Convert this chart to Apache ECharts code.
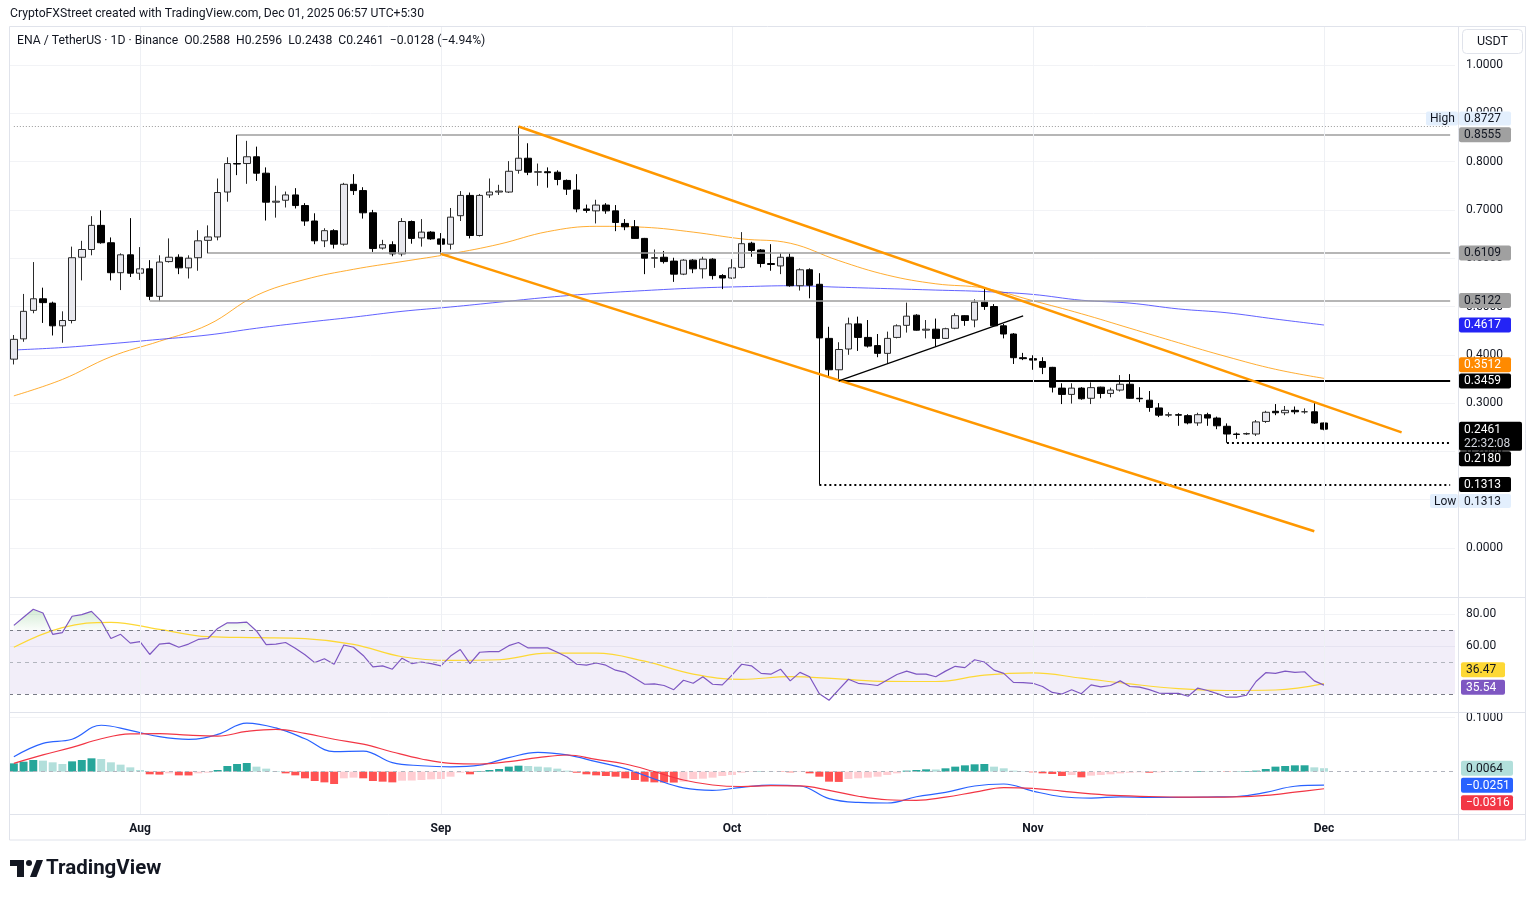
<!DOCTYPE html>
<html>
<head>
<meta charset="utf-8">
<title>ENA / TetherUS 1D</title>
<script src="https://cdn.jsdelivr.net/npm/echarts@6/dist/echarts.min.js"></script>
<style>
html, body { margin: 0; padding: 0; background: #fff; }
#main { width: 1536px; height: 897px; }
</style>
</head>
<body>
<div id="main"></div>
<script>
// daily candles, 2025-07-19 .. 2025-12-01
var opens = [0.391, 0.433, 0.492, 0.516, 0.507, 0.460, 0.471, 0.602, 0.618, 0.668,
  0.632, 0.570, 0.607, 0.569, 0.578, 0.521, 0.593, 0.602, 0.580, 0.601,
  0.637, 0.644, 0.737, 0.796, 0.796, 0.810, 0.776, 0.716, 0.720, 0.731,
  0.709, 0.677, 0.636, 0.657, 0.629, 0.753, 0.740, 0.694, 0.621, 0.628,
  0.609, 0.676, 0.642, 0.654, 0.640, 0.629, 0.688, 0.730, 0.647, 0.731,
  0.737, 0.737, 0.782, 0.807, 0.778, 0.779, 0.778, 0.761, 0.741, 0.702,
  0.698, 0.710, 0.698, 0.672, 0.665, 0.641, 0.600, 0.602, 0.594, 0.567,
  0.596, 0.578, 0.598, 0.564, 0.559, 0.581, 0.631, 0.617, 0.589, 0.584,
  0.602, 0.543, 0.576, 0.546, 0.434, 0.369, 0.412, 0.464, 0.436, 0.419,
  0.403, 0.436, 0.461, 0.482, 0.451, 0.453, 0.434, 0.455, 0.481, 0.472,
  0.509, 0.500, 0.460, 0.443, 0.394, 0.392, 0.386, 0.374, 0.331, 0.318,
  0.331, 0.310, 0.333, 0.320, 0.327, 0.339, 0.310, 0.306, 0.290, 0.275,
  0.276, 0.274, 0.259, 0.276, 0.269, 0.252, 0.236, 0.236, 0.236, 0.262,
  0.283, 0.280, 0.285, 0.282, 0.282, 0.2588];
var highs = [0.441, 0.526, 0.592, 0.539, 0.510, 0.490, 0.624, 0.636, 0.687, 0.699,
  0.643, 0.610, 0.683, 0.623, 0.596, 0.606, 0.641, 0.608, 0.606, 0.658,
  0.668, 0.765, 0.809, 0.8555, 0.843, 0.831, 0.788, 0.750, 0.738, 0.745,
  0.714, 0.693, 0.662, 0.660, 0.756, 0.774, 0.747, 0.700, 0.638, 0.635,
  0.683, 0.678, 0.681, 0.656, 0.652, 0.704, 0.739, 0.736, 0.733, 0.765,
  0.752, 0.801, 0.8727, 0.838, 0.796, 0.788, 0.782, 0.763, 0.774, 0.711,
  0.721, 0.714, 0.710, 0.681, 0.679, 0.642, 0.618, 0.615, 0.601, 0.598,
  0.598, 0.603, 0.600, 0.567, 0.598, 0.654, 0.634, 0.619, 0.629, 0.610,
  0.610, 0.579, 0.579, 0.569, 0.458, 0.426, 0.477, 0.479, 0.472, 0.443,
  0.448, 0.463, 0.508, 0.484, 0.472, 0.475, 0.456, 0.486, 0.482, 0.515,
  0.537, 0.505, 0.464, 0.445, 0.404, 0.399, 0.395, 0.375, 0.341, 0.341,
  0.333, 0.343, 0.334, 0.332, 0.358, 0.360, 0.333, 0.325, 0.300, 0.281,
  0.279, 0.277, 0.280, 0.280, 0.272, 0.258, 0.239, 0.239, 0.265, 0.284,
  0.298, 0.294, 0.293, 0.289, 0.301, 0.2596];
var lows = [0.380, 0.427, 0.486, 0.466, 0.440, 0.425, 0.465, 0.554, 0.606, 0.630,
  0.554, 0.534, 0.561, 0.555, 0.513, 0.511, 0.591, 0.567, 0.558, 0.574,
  0.610, 0.637, 0.717, 0.772, 0.754, 0.760, 0.678, 0.684, 0.705, 0.703,
  0.667, 0.629, 0.623, 0.620, 0.626, 0.731, 0.682, 0.613, 0.618, 0.604,
  0.604, 0.630, 0.624, 0.638, 0.608, 0.618, 0.677, 0.641, 0.645, 0.725,
  0.731, 0.735, 0.775, 0.772, 0.750, 0.746, 0.751, 0.731, 0.695, 0.694,
  0.672, 0.692, 0.656, 0.658, 0.640, 0.567, 0.580, 0.589, 0.551, 0.565,
  0.569, 0.558, 0.556, 0.536, 0.557, 0.579, 0.603, 0.581, 0.574, 0.567,
  0.541, 0.533, 0.517, 0.1313, 0.355, 0.346, 0.400, 0.408, 0.415, 0.395,
  0.381, 0.434, 0.446, 0.450, 0.434, 0.417, 0.433, 0.453, 0.460, 0.457,
  0.493, 0.458, 0.434, 0.381, 0.389, 0.369, 0.360, 0.322, 0.298, 0.299,
  0.307, 0.298, 0.310, 0.312, 0.324, 0.309, 0.302, 0.282, 0.271, 0.271,
  0.253, 0.256, 0.253, 0.253, 0.246, 0.218, 0.226, 0.234, 0.232, 0.259,
  0.275, 0.275, 0.277, 0.278, 0.257, 0.2438];
var closes = [0.432, 0.490, 0.516, 0.508, 0.460, 0.471, 0.601, 0.618, 0.668, 0.632,
  0.570, 0.607, 0.569, 0.578, 0.521, 0.592, 0.602, 0.580, 0.600, 0.636,
  0.644, 0.736, 0.796, 0.795, 0.810, 0.776, 0.716, 0.718, 0.731, 0.709,
  0.677, 0.636, 0.657, 0.629, 0.753, 0.740, 0.694, 0.620, 0.628, 0.609,
  0.676, 0.641, 0.654, 0.640, 0.629, 0.685, 0.730, 0.647, 0.730, 0.737,
  0.739, 0.780, 0.807, 0.778, 0.779, 0.777, 0.763, 0.743, 0.702, 0.699,
  0.710, 0.698, 0.674, 0.665, 0.641, 0.600, 0.601, 0.593, 0.567, 0.596,
  0.578, 0.598, 0.564, 0.559, 0.580, 0.630, 0.616, 0.589, 0.587, 0.602,
  0.543, 0.576, 0.544, 0.435, 0.369, 0.411, 0.464, 0.436, 0.418, 0.403,
  0.434, 0.460, 0.480, 0.451, 0.453, 0.434, 0.454, 0.481, 0.471, 0.509,
  0.500, 0.460, 0.443, 0.394, 0.392, 0.389, 0.374, 0.333, 0.318, 0.331,
  0.309, 0.332, 0.320, 0.327, 0.339, 0.310, 0.309, 0.291, 0.275, 0.276,
  0.275, 0.259, 0.276, 0.269, 0.253, 0.236, 0.235, 0.237, 0.261, 0.281,
  0.280, 0.285, 0.282, 0.282, 0.2588, 0.2461];

// one category per day, running on past Dec 1 so the channel has room
var dates = [];
(function () {
  var d = new Date(Date.UTC(2025, 6, 19));
  for (var k = 0; k < 149; k++) {
    dates.push(d.toISOString().slice(0, 10));
    d.setUTCDate(d.getUTCDate() + 1);
  }
})();
var monthNames = { '2025-08-01': 'Aug', '2025-09-01': 'Sep', '2025-10-01': 'Oct', '2025-11-01': 'Nov', '2025-12-01': 'Dec' };
var priceTicks = [0, 0.1, 0.2, 0.3, 0.4, 0.5, 0.6, 0.7, 0.8, 0.9, 1.0];
var rsiTicks = [60, 80];
var macdTicks = [0.1];

// moving averages, one reading every 5 bars
var maStep = 5;
var ma50 = [0.315, 0.349, 0.396, 0.428, 0.462, 0.523, 0.556, 0.577, 0.593, 0.609,
  0.629, 0.655, 0.666, 0.664, 0.654, 0.640, 0.631, 0.595, 0.565, 0.547,
  0.538, 0.512, 0.485, 0.455, 0.425, 0.396, 0.370, 0.3512];
var ma200 = [0.410, 0.415, 0.423, 0.432, 0.441, 0.455, 0.467, 0.478, 0.490, 0.499,
  0.509, 0.519, 0.527, 0.533, 0.538, 0.541, 0.543, 0.540, 0.537, 0.534,
  0.531, 0.525, 0.513, 0.507, 0.495, 0.487, 0.474, 0.4617];

// RSI(14) per bar, and its MA every 5 bars
var rsi = [72.9, 78.0, 83.0, 80.6, 67.3, 68.4, 78.6, 79.6, 81.6, 75.5,
  64.7, 67.3, 61.8, 62.7, 54.7, 61.2, 61.8, 59.2, 61.2, 64.1,
  64.7, 71.0, 74.5, 74.5, 74.9, 69.4, 60.8, 61.2, 62.2, 58.6,
  54.5, 49.6, 52.0, 48.6, 60.6, 59.2, 54.1, 46.9, 47.6, 45.5,
  52.4, 49.0, 50.0, 49.0, 47.6, 53.7, 57.8, 49.0, 56.1, 56.5,
  56.5, 60.2, 62.2, 58.8, 58.8, 58.8, 56.1, 53.1, 48.6, 48.0,
  49.4, 48.0, 44.9, 43.5, 39.8, 36.1, 36.3, 35.3, 32.7, 38.6,
  36.7, 40.8, 36.1, 35.7, 41.8, 48.6, 47.6, 42.9, 42.4, 45.5,
  38.2, 43.5, 40.8, 30.2, 26.1, 32.7, 39.2, 36.7, 36.1, 35.3,
  38.8, 42.2, 44.3, 42.4, 42.4, 40.8, 44.3, 47.3, 46.5, 51.4,
  50.0, 44.9, 42.9, 37.3, 37.1, 36.7, 34.7, 31.0, 30.0, 32.7,
  30.2, 35.7, 34.5, 35.3, 38.2, 34.7, 34.3, 32.7, 30.6, 30.4,
  30.4, 28.6, 33.7, 32.2, 30.2, 28.0, 28.0, 29.2, 37.8, 43.3,
  42.9, 44.3, 43.5, 43.9, 38.2, 35.54];
var rsiMa = [59.2, 71.5, 74.8, 70.4, 65.8, 65.2, 64.6, 61.0, 53.3, 51.0,
  51.4, 55.5, 55.5, 50.5, 42.4, 39.2, 40.8, 39.4, 37.9, 37.8,
  41.8, 43.2, 39.9, 36.3, 33.4, 32.2, 32.5, 36.47];

// MACD(12,26,9): lines every 3 bars, histogram per bar
var macdStep = 3;
var macdLine = [0.0278, 0.0525, 0.0600, 0.0860, 0.0765, 0.0648, 0.0599, 0.0690, 0.0900, 0.0810,
  0.0610, 0.0370, 0.0380, 0.0167, 0.0110, 0.0090, 0.0120, 0.0260, 0.0358, 0.0310,
  0.0185, 0.0055, -0.0135, -0.0300, -0.0345, -0.0290, -0.0250, -0.0265, -0.0500, -0.0570,
  -0.0580, -0.0465, -0.0385, -0.0265, -0.0228, -0.0360, -0.0465, -0.0490, -0.0465, -0.0475,
  -0.0475, -0.0470, -0.0460, -0.0385, -0.0270, -0.0251];
var signalLine = [0.0154, 0.0310, 0.0450, 0.0610, 0.0700, 0.0705, 0.0675, 0.0660, 0.0745, 0.0784,
  0.0710, 0.0600, 0.0510, 0.0365, 0.0235, 0.0154, 0.0142, 0.0185, 0.0259, 0.0309,
  0.0228, 0.0142, 0.0000, -0.0154, -0.0247, -0.0275, -0.0259, -0.0264, -0.0345, -0.0455,
  -0.0520, -0.0530, -0.0470, -0.0380, -0.0295, -0.0310, -0.0360, -0.0410, -0.0445, -0.0460,
  -0.0472, -0.0473, -0.0468, -0.0440, -0.0380, -0.0316];
var hist = [0.0154, 0.0185, 0.0216, 0.0204, 0.0173, 0.0142, 0.0191, 0.0216, 0.0247, 0.0235,
  0.0173, 0.0130, 0.0080, 0.0031, -0.0049, -0.0055, -0.0031, -0.0068, -0.0070, -0.0031,
  -0.0019, 0.0031, 0.0105, 0.0142, 0.0160, 0.0093, 0.0056, 0.0012, -0.0031, -0.0068,
  -0.0123, -0.0173, -0.0198, -0.0228, -0.0123, -0.0111, -0.0123, -0.0173, -0.0185, -0.0198,
  -0.0167, -0.0164, -0.0154, -0.0142, -0.0136, -0.0093, -0.0019, -0.0049, 0.0012, 0.0031,
  0.0049, 0.0093, 0.0111, 0.0105, 0.0093, 0.0080, 0.0056, 0.0019, -0.0019, -0.0049,
  -0.0068, -0.0080, -0.0093, -0.0123, -0.0154, -0.0185, -0.0198, -0.0200, -0.0202, -0.0185,
  -0.0136, -0.0130, -0.0111, -0.0080, -0.0062, -0.0019, -0.0006, 0.0006, 0.0004, -0.0006,
  -0.0012, -0.0006, -0.0031, -0.0093, -0.0185, -0.0190, -0.0136, -0.0123, -0.0111, -0.0093,
  -0.0062, -0.0031, 0.0019, 0.0031, 0.0043, 0.0040, 0.0062, 0.0093, 0.0117, 0.0136,
  0.0142, 0.0093, 0.0062, 0.0019, 0.0006, -0.0012, -0.0031, -0.0043, -0.0080, -0.0062,
  -0.0105, -0.0074, -0.0062, -0.0049, -0.0031, -0.0019, -0.0012, -0.0019, -0.0012, -0.0006,
  0.0006, 0.0004, 0.0012, 0.0006, 0.0005, -0.0006, 0.0006, 0.0012, 0.0019, 0.0049,
  0.0093, 0.0105, 0.0117, 0.0118, 0.0080, 0.0064];

// drawings: [bar index, price]
var upperChannel = [[52, 0.8727], [143, 0.2393]];
var lowerChannel = [[44, 0.609], [134, 0.0346]];
var riseLine = [[85, 0.3459], [104, 0.4805]];
var grayLevels = [[23, 0.8555], [20, 0.6109], [14, 0.5122]];
var blackLevel = [85, 0.3459];
var dottedLevels = [[125, 0.2180], [83, 0.1313]];
var highValue = 0.8727;
var lowValue = 0.1313;

var FONT = 'Roboto, "Liberation Sans", sans-serif';
var TXT = '#131722';
var lastBar = dates.length - 1;

var myChart = echarts.init(document.getElementById('main'));

function pairs(arr, step) {
  return arr.map(function (v, k) { return [dates[k * step], v]; });
}
function seg(p) {
  return p.map(function (q) { return [dates[q[0]], q[1]]; });
}
var monthLines = Object.keys(monthNames).map(function (d) { return { xAxis: d }; });

// price levels drawn as mark lines on the candles
var levelLines = [];
grayLevels.forEach(function (l) {
  levelLines.push([{ coord: [dates[l[0]], l[1]], lineStyle: { color: '#9e9e9e', width: 1.5, type: 'solid' } },
    { coord: [dates[lastBar], l[1]] }]);
});
levelLines.push([{ coord: [dates[blackLevel[0]], blackLevel[1]], lineStyle: { color: '#000', width: 2, type: 'solid' } },
  { coord: [dates[lastBar], blackLevel[1]] }]);
dottedLevels.forEach(function (l) {
  levelLines.push([{ coord: [dates[l[0]], l[1]], lineStyle: { color: '#000', width: 2, type: [2, 3] } },
    { coord: [dates[lastBar], l[1]] }]);
});
levelLines.push([{ coord: [dates[0], highValue], lineStyle: { color: '#9a9a9a', width: 1, type: [1, 2] } },
  { coord: [dates[lastBar], highValue] }]);
var monthGrid = monthLines.map(function (m) {
  return { xAxis: m.xAxis, lineStyle: { color: '#eef0f4', width: 1, type: 'solid' } };
});

var histData = hist.map(function (v, k) {
  var prev = k > 0 ? hist[k - 1] : -Infinity;
  var c;
  if (v >= 0) c = v >= prev ? '#26a69a' : '#b2dfdb';
  else c = v < prev ? '#ff5252' : '#ffcdd2';
  return { value: v, itemStyle: { color: c } };
});

var gridBase = { left: 9, right: 81 };
var axisText = { color: TXT, fontSize: 12, fontFamily: FONT, margin: 11, padding: [3, 0, 0, 0] };

var option = {
  animation: false,
  backgroundColor: '#fff',
  grid: [
    Object.assign({ top: 27, height: 569 }, gridBase),
    Object.assign({ top: 598, height: 114 }, gridBase),
    Object.assign({ top: 712, height: 102 }, gridBase)
  ],
  xAxis: [0, 1, 2].map(function (g) {
    return {
      type: 'category', gridIndex: g, data: dates, boundaryGap: true,
      axisLine: { show: false }, axisTick: { show: false }, splitLine: { show: false },
      axisLabel: g === 2 ? {
        interval: function (i, v) { return !!monthNames[v]; },
        formatter: function (v) { return monthNames[v] || ''; },
        color: TXT, fontSize: 12, fontWeight: 'bold', fontFamily: FONT, margin: 9
      } : { show: false }
    };
  }),
  yAxis: [
    {
      gridIndex: 0, position: 'right', min: -0.0994, max: 1.0787,
      axisLine: { show: false }, axisTick: { show: false, customValues: priceTicks },
      axisLabel: Object.assign({ customValues: priceTicks, formatter: function (v) { return v.toFixed(4); } }, axisText),
      splitLine: { show: true, lineStyle: { color: '#f2f3f6' } }
    },
    {
      gridIndex: 1, position: 'right', min: 18.75, max: 90,
      axisLine: { show: false }, axisTick: { show: false, customValues: rsiTicks },
      axisLabel: Object.assign({ customValues: rsiTicks, formatter: function (v) { return v.toFixed(2); } }, axisText),
      splitLine: { show: true, lineStyle: { color: '#f2f3f6' } }
    },
    {
      gridIndex: 2, position: 'right', min: -0.0784, max: 0.1105,
      axisLine: { show: false }, axisTick: { show: false, customValues: macdTicks },
      axisLabel: Object.assign({ customValues: macdTicks, formatter: function (v) { return v.toFixed(4); } }, axisText),
      splitLine: { show: true, lineStyle: { color: '#f2f3f6' } }
    }
  ],
  series: [
    {
      type: 'candlestick', name: 'ENA', xAxisIndex: 0, yAxisIndex: 0, z: 4,
      barWidth: 7,
      data: opens.map(function (o, k) { return [o, closes[k], lows[k], highs[k]]; }),
      itemStyle: { color: '#e8e8ee', color0: '#000', borderColor: '#2b2b2b', borderColor0: '#000', borderWidth: 1 },
      markLine: {
        silent: true, symbol: 'none', label: { show: false },
        data: levelLines.concat(monthGrid)
      }
    },
    {
      type: 'line', name: 'MA50', xAxisIndex: 0, yAxisIndex: 0, data: pairs(ma50, maStep),
      showSymbol: false, smooth: 0.4, lineStyle: { color: '#ff9800', width: 1, opacity: 0.8 }, z: 3
    },
    {
      type: 'line', name: 'MA200', xAxisIndex: 0, yAxisIndex: 0, data: pairs(ma200, maStep),
      showSymbol: false, smooth: 0.4, lineStyle: { color: '#3b3bff', width: 1, opacity: 0.8 }, z: 3
    },
    {
      type: 'line', name: 'upper', xAxisIndex: 0, yAxisIndex: 0, data: seg(upperChannel),
      showSymbol: false, lineStyle: { color: '#ff9800', width: 2.5 }, z: 5
    },
    {
      type: 'line', name: 'lower', xAxisIndex: 0, yAxisIndex: 0, data: seg(lowerChannel),
      showSymbol: false, lineStyle: { color: '#ff9800', width: 2.5 }, z: 5
    },
    {
      type: 'line', name: 'rise', xAxisIndex: 0, yAxisIndex: 0, data: seg(riseLine),
      showSymbol: false, lineStyle: { color: '#000', width: 1.2 }, z: 5
    },
    {
      type: 'line', name: 'RSI', xAxisIndex: 1, yAxisIndex: 1, data: rsi,
      showSymbol: false, lineStyle: { color: '#7e57c2', width: 1.2 }, z: 4,
      markArea: {
        silent: true, itemStyle: { color: 'rgba(126,87,194,0.1)' },
        data: [[{ yAxis: 30 }, { yAxis: 70 }]]
      },
      markLine: {
        silent: true, symbol: 'none', label: { show: false },
        data: [
          { yAxis: 70, lineStyle: { color: '#787b86', width: 1, type: [4, 4] } },
          { yAxis: 50, lineStyle: { color: '#b2b5be', width: 1, type: [4, 4] } },
          { yAxis: 30, lineStyle: { color: '#787b86', width: 1, type: [4, 4] } }
        ].concat(monthGrid)
      }
    },
    {
      type: 'line', name: 'RSI MA', xAxisIndex: 1, yAxisIndex: 1, data: pairs(rsiMa, maStep),
      showSymbol: false, smooth: 0.4, lineStyle: { color: '#fdd835', width: 1.2 }, z: 3
    },
    {
      // overbought fill: invisible 70 base + part above 70
      type: 'line', xAxisIndex: 1, yAxisIndex: 1, stack: 'ob', silent: true,
      data: rsi.map(function () { return 70; }),
      showSymbol: false, lineStyle: { opacity: 0 }, z: 2
    },
    {
      type: 'line', xAxisIndex: 1, yAxisIndex: 1, stack: 'ob', silent: true,
      data: rsi.map(function (v) { return Math.max(v - 70, 0); }),
      showSymbol: false, lineStyle: { opacity: 0 }, z: 2,
      areaStyle: {
        color: new echarts.graphic.LinearGradient(0, 0, 0, 1, [
          { offset: 0, color: 'rgba(76,175,80,0.35)' },
          { offset: 1, color: 'rgba(76,175,80,0.04)' }
        ])
      }
    },
    {
      type: 'bar', name: 'Histogram', xAxisIndex: 2, yAxisIndex: 2, data: histData,
      barWidth: '82%', z: 2,
      markLine: {
        silent: true, symbol: 'none', label: { show: false },
        data: [{ yAxis: 0, lineStyle: { color: '#b2b5be', width: 1, type: [4, 4] } }].concat(monthGrid)
      }
    },
    {
      type: 'line', name: 'MACD', xAxisIndex: 2, yAxisIndex: 2, data: pairs(macdLine, macdStep),
      showSymbol: false, smooth: 0.4, lineStyle: { color: '#2962ff', width: 1.2 }, z: 3
    },
    {
      type: 'line', name: 'Signal', xAxisIndex: 2, yAxisIndex: 2, data: pairs(signalLine, macdStep),
      showSymbol: false, smooth: 0.4, lineStyle: { color: '#f23645', width: 1.2 }, z: 3
    }
  ]
};
myChart.setOption(option);

// ---- labels, tags, frame ----
function yAt(seriesIndex, v) {
  return myChart.convertToPixel({ seriesIndex: seriesIndex }, [dates[0], v])[1];
}
function txt(x, y, s, font, fill, align) {
  return { type: 'text', z: 101, x: x, y: y, silent: true,
    style: { text: s, font: font, fill: fill, align: align || 'left', verticalAlign: 'middle' } };
}
function tag(x, yc, w, h, s, bg, fg) {
  return [
    { type: 'rect', z: 100, silent: true, shape: { x: x, y: yc - h / 2, width: w, height: h, r: 2 }, style: { fill: bg } },
    txt(x + 5, yc + 0.5, s, '12px ' + FONT, fg)
  ];
}

var els = [];
// frame
els.push({ type: 'rect', z: 90, silent: true, shape: { x: 9.5, y: 26.5, width: 1516, height: 813.5 },
  style: { fill: null, stroke: '#e0e3eb', lineWidth: 1 } });
[597.5, 712.5, 814.5].forEach(function (y) {
  els.push({ type: 'line', z: 90, silent: true, shape: { x1: 9.5, y1: y, x2: 1525.5, y2: y }, style: { stroke: '#e0e3eb', lineWidth: 1 } });
});
els.push({ type: 'line', z: 90, silent: true, shape: { x1: 1458.5, y1: 26.5, x2: 1458.5, y2: 840 }, style: { stroke: '#e0e3eb', lineWidth: 1 } });

// header
els.push(txt(10, 14, 'CryptoFXStreet created with TradingView.com, Dec 01, 2025 06:57 UTC+5:30', '12.2px ' + FONT, TXT));
els.push(txt(17, 40.5, 'ENA / TetherUS \u00b7 1D \u00b7 Binance  O0.2588  H0.2596  L0.2438  C0.2461  \u22120.0128 (\u22124.94%)', '12.2px ' + FONT, TXT));

// USDT box
els.push({ type: 'rect', z: 100, silent: true, shape: { x: 1462.5, y: 29.5, width: 60, height: 24, r: 4 },
  style: { fill: '#fff', stroke: '#e0e3eb', lineWidth: 1 } });
els.push(txt(1492.5, 42, 'USDT', '12.5px ' + FONT, TXT, 'center'));

// price pane tags
var TX = 1459, TW = 52, TH = 15;
var yHigh = yAt(0, highValue) - 8;
els.push({ type: 'rect', z: 100, silent: true, shape: { x: 1426, y: yHigh - 7, width: 32, height: 14, r: 2 }, style: { fill: '#e3effd' } });
els.push(txt(1430, yHigh + 0.5, 'High', '12px ' + FONT, TXT));
els = els.concat(tag(TX, yHigh, TW, 14, highValue.toFixed(4), '#e3effd', TXT));
grayLevels.forEach(function (l) {
  els = els.concat(tag(TX, yAt(0, l[1]), TW, TH, l[1].toFixed(4), '#a0a0a0', TXT));
});
els = els.concat(tag(TX, yAt(0, ma200[ma200.length - 1]), TW, TH, ma200[ma200.length - 1].toFixed(4), '#2424f5', '#fff'));
els = els.concat(tag(TX, yAt(0, ma50[ma50.length - 1]) - 13.5, TW, TH, ma50[ma50.length - 1].toFixed(4), '#ff8a00', '#fff'));
els = els.concat(tag(TX, yAt(0, blackLevel[1]), TW, TH, blackLevel[1].toFixed(4), '#000', '#fff'));
var lastClose = closes[closes.length - 1];
var yLast = yAt(0, lastClose);
els.push({ type: 'rect', z: 100, silent: true, shape: { x: TX, y: yLast - 7.5, width: 63, height: 29, r: 2 }, style: { fill: '#000' } });
els.push(txt(TX + 5, yLast + 0.5, lastClose.toFixed(4), '12px ' + FONT, '#fff'));
els.push(txt(TX + 5, yLast + 14.5, '22:32:08', '12px ' + FONT, '#d1d4dc'));
els = els.concat(tag(TX, yAt(0, dottedLevels[0][1]) + 16, TW, TH, dottedLevels[0][1].toFixed(4), '#000', '#fff'));
els = els.concat(tag(TX, yAt(0, dottedLevels[1][1]), TW, TH, dottedLevels[1][1].toFixed(4), '#000', '#fff'));
var yLow = yAt(0, lowValue) + 16.5;
els.push({ type: 'rect', z: 100, silent: true, shape: { x: 1430, y: yLow - 7, width: 28, height: 14, r: 2 }, style: { fill: '#e3effd' } });
els.push(txt(1434, yLow + 0.5, 'Low', '12px ' + FONT, TXT));
els = els.concat(tag(TX, yLow, TW, 14, lowValue.toFixed(4), '#e3effd', TXT));

// RSI tags
var lastRsiMa = rsiMa[rsiMa.length - 1], lastRsi = rsi[rsi.length - 1];
els = els.concat(tag(1461, yAt(6, lastRsiMa) - 14, 44, TH, lastRsiMa.toFixed(2), '#fdd835', TXT));
els = els.concat(tag(1461, yAt(6, lastRsi) + 2, 44, TH, lastRsi.toFixed(2), '#7e57c2', '#fff'));

// MACD tags
var lastHist = hist[hist.length - 1], lastMacd = macdLine[macdLine.length - 1], lastSig = signalLine[signalLine.length - 1];
function fmt(v) { return (v < 0 ? '\u2212' : '') + Math.abs(v).toFixed(4); }
els = els.concat(tag(1461, yAt(10, lastHist), TW, TH, fmt(lastHist), '#b2dfdb', TXT));
els = els.concat(tag(1461, yAt(10, lastMacd), TW, TH, fmt(lastMacd), '#2962ff', '#fff'));
els = els.concat(tag(1461, yAt(10, lastSig) + 14, TW, TH, fmt(lastSig), '#f23645', '#fff'));

// TradingView logo
els.push({ type: 'rect', z: 100, silent: true, shape: { x: 10, y: 860, width: 14, height: 6 }, style: { fill: TXT } });
els.push({ type: 'rect', z: 100, silent: true, shape: { x: 17, y: 860, width: 7, height: 17 }, style: { fill: TXT } });
els.push({ type: 'circle', z: 100, silent: true, shape: { cx: 29, cy: 863, r: 3 }, style: { fill: TXT } });
els.push({ type: 'polygon', z: 100, silent: true, shape: { points: [[30, 877], [36.5, 860], [43, 860], [36.5, 877]] }, style: { fill: TXT } });
els.push(txt(46, 868.5, 'TradingView', 'bold 20.5px ' + FONT, TXT));

myChart.setOption({ graphic: { elements: els } });

window.addEventListener('resize', function () {
  myChart.resize();
});
</script>
</body>
</html>
